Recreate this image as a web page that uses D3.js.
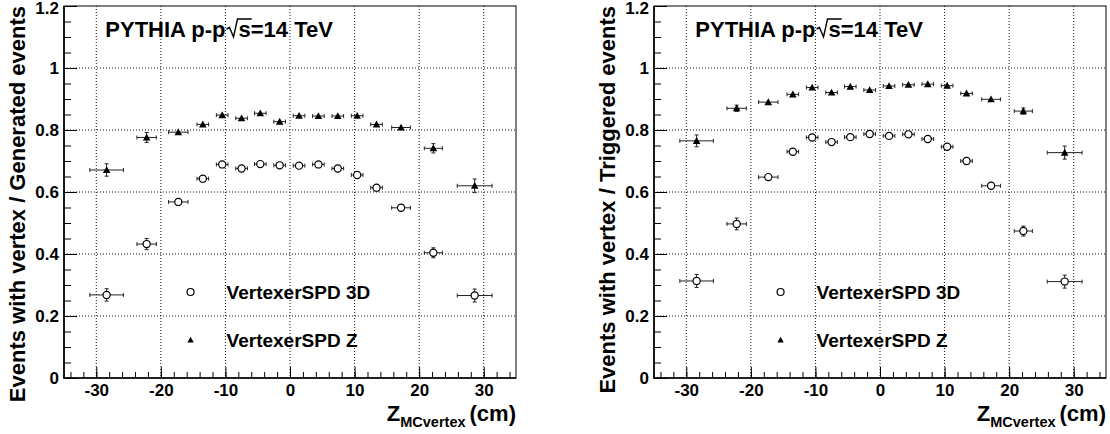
<!DOCTYPE html>
<html>
<head>
<meta charset="utf-8">
<script src="https://cdn.jsdelivr.net/npm/d3@7"></script>
<style>
  body { margin: 0; background: #fff; }
  svg { display: block; font-family: "Liberation Sans", Arial, Helvetica, sans-serif; font-weight: bold; }
</style>
</head>
<body>
<svg id="chart" width="1110" height="434"></svg>
<script>
// bin centres (cm) and their horizontal half widths
const zCenters = [-28.4, -22.2, -17.3, -13.5, -10.5, -7.5, -4.6, -1.6, 1.4, 4.4, 7.4, 10.4, 13.4, 17.2, 22.2, 28.6];
const zHalf    = [2.6, 1.5, 1.5, 0.9, 0.9, 0.9, 0.9, 0.9, 0.9, 0.9, 0.9, 0.9, 0.9, 1.45, 1.4, 2.7];

// left: events with vertex / generated events
const gen3D    = [0.268, 0.432, 0.568, 0.643, 0.689, 0.676, 0.690, 0.686, 0.685, 0.689, 0.676, 0.655, 0.614, 0.549, 0.404, 0.266];
const gen3DErr = [0.020, 0.018, 0.008, 0.006, 0.005, 0.005, 0.005, 0.005, 0.005, 0.005, 0.005, 0.005, 0.006, 0.008, 0.016, 0.021];
const genZ     = [0.671, 0.776, 0.793, 0.818, 0.848, 0.838, 0.854, 0.827, 0.846, 0.845, 0.845, 0.846, 0.818, 0.808, 0.741, 0.620];
const genZErr  = [0.020, 0.016, 0.006, 0.005, 0.005, 0.005, 0.005, 0.005, 0.005, 0.005, 0.005, 0.005, 0.005, 0.006, 0.015, 0.022];

// right: events with vertex / triggered events
const trig3D    = [0.313, 0.497, 0.648, 0.730, 0.776, 0.761, 0.777, 0.787, 0.781, 0.786, 0.771, 0.746, 0.700, 0.620, 0.474, 0.311];
const trig3DErr = [0.021, 0.019, 0.008, 0.006, 0.005, 0.005, 0.005, 0.005, 0.005, 0.005, 0.005, 0.005, 0.006, 0.008, 0.016, 0.021];
const trigZ     = [0.765, 0.870, 0.890, 0.915, 0.937, 0.921, 0.940, 0.929, 0.942, 0.946, 0.948, 0.943, 0.918, 0.899, 0.861, 0.727];
const trigZErr  = [0.019, 0.010, 0.006, 0.005, 0.005, 0.005, 0.005, 0.005, 0.005, 0.005, 0.005, 0.005, 0.005, 0.006, 0.010, 0.021];

const xMajor = [-30, -20, -10, 0, 10, 20, 30];
const xMinor = d3.range(-34, 35, 2);
const yMajor = [0, 0.2, 0.4, 0.6, 0.8, 1, 1.2];
const yMinor = d3.range(0, 25).map(i => +(i * 0.05).toFixed(2));

const legendLabels = ["VertexerSPD 3D", "VertexerSPD Z"];
const yTitles = ["Events with vertex / Generated events", "Events with vertex / Triggered events"];

const panels = [
  { left: 64,  s3d: gen3D,  e3d: gen3DErr,  sz: genZ,  ez: genZErr,  ytitle: yTitles[0] },
  { left: 654, s3d: trig3D, e3d: trig3DErr, sz: trigZ, ez: trigZErr, ytitle: yTitles[1] }
];

const W = 452, plotTop = 6, plotBottom = 378;
const svg = d3.select('#chart');

panels.forEach(p => drawPanel(p));

function drawPanel(p) {
  const x = d3.scaleLinear().domain([-35, 35]).range([p.left, p.left + W]);
  const y = d3.scaleLinear().domain([0, 1.2]).range([plotBottom, plotTop]);
  const g = svg.append('g');

  // dotted grid
  g.append('g').selectAll('line')
    .data(xMajor)
    .join('line')
      .attr('x1', d => x(d)).attr('x2', d => x(d))
      .attr('y1', plotTop).attr('y2', plotBottom)
      .attr('stroke', '#111').attr('stroke-dasharray', '1,2');
  g.append('g').selectAll('line')
    .data(yMajor.filter(d => d > 0 && d < 1.2))
    .join('line')
      .attr('x1', p.left).attr('x2', p.left + W)
      .attr('y1', d => y(d)).attr('y2', d => y(d))
      .attr('stroke', '#111').attr('stroke-dasharray', '1,2');

  // axes, ticks pointing inwards
  const xa = g.append('g').attr('transform', `translate(0,${plotBottom})`)
    .call(d3.axisBottom(x).tickValues(xMinor).tickSize(-6).tickFormat(''));
  const xb = g.append('g').attr('transform', `translate(0,${plotBottom})`)
    .call(d3.axisBottom(x).tickValues(xMajor).tickSize(-11).tickPadding(6).tickFormat(d3.format('d')));
  const ya = g.append('g').attr('transform', `translate(${p.left},0)`)
    .call(d3.axisLeft(y).tickValues(yMinor).tickSize(-7).tickFormat(''));
  const yb = g.append('g').attr('transform', `translate(${p.left},0)`)
    .call(d3.axisLeft(y).tickValues(yMajor).tickSize(-13).tickPadding(5).tickFormat(d3.format('~g')));
  [xa, xb, ya, yb].forEach(a => {
    a.select('.domain').remove();
    a.selectAll('line').attr('stroke', '#000');
    a.selectAll('text').attr('font-size', 17).attr('font-family', null).attr('font-weight', 'bold').attr('fill', '#000');
  });
  xb.selectAll('text').text(d => d < 0 ? '-' + Math.abs(d) : d);
  // keep the top label inside the page
  yb.selectAll('text').filter(d => d === 1.2).attr('dy', '0.45em');

  // frame
  g.append('rect')
    .attr('x', p.left).attr('y', plotTop).attr('width', W).attr('height', plotBottom - plotTop)
    .attr('fill', 'none').attr('stroke', '#000').attr('stroke-width', 1);
  g.append('path')
    .attr('d', `M${p.left},${plotTop}V${plotBottom}H${p.left + W}`)
    .attr('fill', 'none').attr('stroke', '#000').attr('stroke-width', 1.6);

  // error bars + markers
  drawSeries(g, x, y, p.s3d, p.e3d, 'circle');
  drawSeries(g, x, y, p.sz, p.ez, 'triangle');

  // legend
  const lx = x(-15.4);
  g.append('circle').attr('cx', lx).attr('cy', 292).attr('r', 3.5)
    .attr('fill', '#fff').attr('stroke', '#000').attr('stroke-width', 1.2);
  g.append('path').attr('d', tri(lx, 340, 3.2)).attr('fill', '#000');
  g.selectAll('text.leg')
    .data(legendLabels)
    .join('text')
      .attr('class', 'leg')
      .attr('x', lx + 36).attr('y', (d, i) => 299 + i * 48)
      .attr('font-size', 19)
      .text(d => d);

  // header with sqrt(s)
  const hx = x(-28.6);
  const t1 = g.append('text').attr('x', hx).attr('y', 37).attr('font-size', 22).text('PYTHIA p-p');
  const w1 = t1.node().getComputedTextLength();
  const sx = hx + w1 + 13;
  g.append('text').attr('x', sx).attr('y', 37).attr('font-size', 22).text('s=14 TeV');
  const t3 = g.append('text').attr('font-size', 22).text('s').attr('visibility', 'hidden');
  const ws = t3.node().getComputedTextLength();
  t3.remove();
  const r0 = hx + w1 + 1;
  g.append('path')
    .attr('d', `M${r0},${29}L${r0 + 3},${27.5}L${r0 + 7},${37}L${r0 + 11},${19}H${sx + ws + 1}`)
    .attr('fill', 'none').attr('stroke', '#000').attr('stroke-width', 1.4);

  // axis titles
  g.append('text')
    .attr('transform', `translate(${p.left - 39},${plotTop}) rotate(-90)`)
    .attr('text-anchor', 'end')
    .attr('font-size', 22)
    .text(p.ytitle);
  const xt = g.append('text')
    .attr('x', p.left + W).attr('y', 421)
    .attr('text-anchor', 'end')
    .attr('font-size', 22);
  xt.append('tspan').text('Z');
  xt.append('tspan').attr('font-size', 14.5).attr('dy', 6).text('MCvertex ');
  xt.append('tspan').attr('dy', -6).text('(cm)');
}

function tri(cx, cy, s) {
  return `M${cx - s},${cy + s * 0.8}L${cx + s},${cy + s * 0.8}L${cx},${cy - s}Z`;
}

function drawSeries(g, x, y, vals, errs, kind) {
  const pts = vals.map((v, i) => ({ z: zCenters[i], hz: zHalf[i], v: v, e: errs[i] }));
  const eb = g.append('g').attr('stroke', '#222').attr('stroke-width', 1).attr('fill', 'none');
  pts.forEach(d => {
    const cx = x(d.z), cy = y(d.v);
    const xl = x(d.z - d.hz), xr = x(d.z + d.hz);
    const yt = y(d.v + d.e), yb = y(d.v - d.e);
    eb.append('path').attr('d', `M${xl},${cy}H${xr}M${xl},${cy - 2}V${cy + 2}M${xr},${cy - 2}V${cy + 2}`);
    if (yb - yt > 6) {
      eb.append('path').attr('d', `M${cx},${yt}V${yb}M${cx - 2},${yt}H${cx + 2}M${cx - 2},${yb}H${cx + 2}`);
    }
  });
  if (kind === 'circle') {
    g.append('g').selectAll('circle')
      .data(pts)
      .join('circle')
        .attr('cx', d => x(d.z)).attr('cy', d => y(d.v)).attr('r', 3.6)
        .attr('fill', '#fff').attr('stroke', '#000').attr('stroke-width', 1.2);
  } else {
    g.append('g').selectAll('path')
      .data(pts)
      .join('path')
        .attr('d', d => tri(x(d.z), y(d.v), 3.8))
        .attr('fill', '#000');
  }
}
</script>
</body>
</html>
